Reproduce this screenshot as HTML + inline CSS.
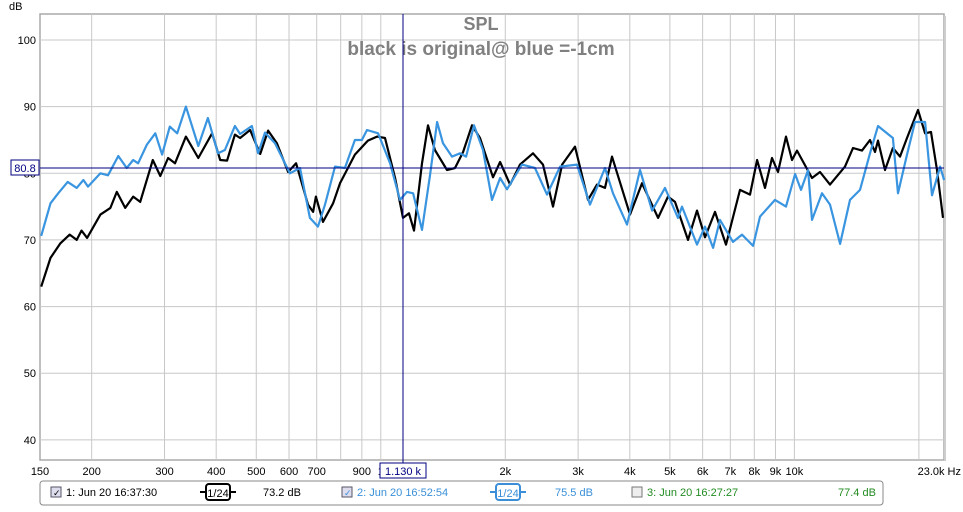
<!DOCTYPE html>
<html><head><meta charset="utf-8"><style>
body{margin:0;background:#fff;font-family:"Liberation Sans",sans-serif}
svg text{font-family:"Liberation Sans",sans-serif}
</style></head><body>
<svg id="chart" width="963" height="507" xmlns="http://www.w3.org/2000/svg">
<rect width="963" height="507" fill="#fff"/>
<rect x="40" y="14" width="904" height="446" fill="#fff" stroke="#aaa" stroke-width="1.5"/>
<line x1="945" y1="16" x2="945" y2="461" stroke="#ccc" stroke-width="2"/>
<g id="grid"></g>
<text x="9" y="10" font-size="11" fill="#000">dB</text>
<g id="yticks"></g>
<g id="xticks"></g>
<text x="481" y="30" text-anchor="middle" font-size="18" font-weight="bold" fill="#808080">SPL</text>
<text x="481" y="55" text-anchor="middle" font-size="19" font-weight="bold" fill="#808080">black is original@ blue =-1cm</text>
<g id="series"></g>
<line id="cx" x1="403" y1="14" x2="403" y2="463" stroke="#000080" stroke-width="1"/>
<line id="cy" x1="40" y1="168" x2="944" y2="168" stroke="#000080" stroke-width="1"/>
<rect x="11" y="160" width="28" height="15" fill="#fff" stroke="#000080"/>
<text x="25" y="172" text-anchor="middle" font-size="11" fill="#000080">80.8</text>
<rect x="380" y="463" width="46" height="15" fill="#fff" stroke="#000080"/>
<text x="403" y="475" text-anchor="middle" font-size="11" fill="#000080">1.130 k</text>
<g>
<rect x="40" y="481" width="843" height="24" rx="3" fill="#fff" stroke="#888"/>
<rect x="51" y="487" width="10" height="10" fill="#dde" stroke="#556"/>
<text x="53" y="496" font-size="9" fill="#000">✓</text>
<text x="66" y="496" font-size="11" fill="#000">1: Jun 20 16:37:30</text>
<line x1="200" y1="492" x2="236" y2="492" stroke="#000" stroke-width="2"/>
<rect x="206" y="484" width="24" height="16" rx="3" fill="#fff" stroke="#000" stroke-width="2"/>
<text x="218" y="497" text-anchor="middle" font-size="11">1/24</text>
<text x="263" y="496" font-size="11" fill="#000">73.2 dB</text>
<rect x="342" y="487" width="10" height="10" fill="#dde" stroke="#556"/>
<text x="344" y="496" font-size="9" fill="#3a8fd8">✓</text>
<text x="357" y="496" font-size="11" fill="#3a8fd8">2: Jun 20 16:52:54</text>
<line x1="490" y1="492" x2="526" y2="492" stroke="#3a8fd8" stroke-width="2"/>
<rect x="496" y="484" width="24" height="16" rx="3" fill="#fff" stroke="#3a8fd8" stroke-width="2"/>
<text x="508" y="497" text-anchor="middle" font-size="11" fill="#3a8fd8">1/24</text>
<text x="555" y="496" font-size="11" fill="#3a8fd8">75.5 dB</text>
<rect x="632" y="487" width="10" height="10" fill="#eee" stroke="#777"/>
<text x="647" y="496" font-size="11" fill="#228b22">3: Jun 20 16:27:27</text>
<text x="838" y="496" font-size="11" fill="#228b22">77.4 dB</text>
</g>
</svg>
<script>
const blackFreq=[151,159,168,177,184,189,195,210,222,230,241,252,262,281,293,306,318,338,362,391,409,425,444,457,483,511,534,561,597,624,667,686,697,725,767,797,866,931,979,1024,1083,1132,1170,1203,1258,1301,1352,1446,1512,1581,1662,1737,1868,1943,2054,2171,2334,2467,2609,2744,2949,3170,3333,3485,3623,4005,4282,4682,4949,5145,5531,5815,6080,6428,6834,7389,7812,8124,8493,8830,9129,9546,9870,10149,11031,11534,12195,13254,13860,14571,15235,15660,15925,16560,17310,18000,18720,19905,20700,21390,22125,22875];
const blackDb=[63,67.3,69.5,70.8,70,71.4,70.3,73.8,74.8,77.2,74.8,76.5,75.7,82,79.6,82.3,81.5,85.5,82.3,86,82,81.9,85.8,85.3,86.5,82.9,86.4,84.5,80.2,81.5,75.3,74.2,76.5,72.7,75.5,78.5,82.8,84.9,85.5,85.3,79.3,73.3,74,71.4,81.5,87.2,83.5,80.5,80.8,83.2,87.2,85.3,79.4,81.7,78.3,81.3,83,81.3,75,81.3,84,76,78.3,77.8,82.5,73.8,78.5,73.3,76.5,75.7,70,74.4,70.4,74.2,69.3,77.5,76.8,82,77.8,82.3,80.2,85.5,82,83.4,79.3,80.2,78.3,81,83.8,83.4,85,83.2,84.9,80.5,83.8,82.5,85.3,89.5,86,86.2,80.5,73.3];
const blueFreq=[151,159,166,175,184,191,196,210,219,232,243,252,259,272,285,296,309,322,338,362,382,404,420,444,457,488,505,525,555,603,638,674,705,733,775,819,866,900,926,985,1053,1113,1157,1197,1258,1315,1368,1414,1487,1554,1608,1680,1767,1857,1943,2019,2195,2360,2523,2713,2982,3206,3485,3643,3939,4235,4529,4866,5232,5349,5815,6080,6359,6611,7106,7472,7945,8260,8976,9546,10038,10377,10791,11031,11661,12195,12896,13632,14410,15235,15925,17310,17805,18720,19575,20700,21510,22500,23010];
const blueDb=[70.6,75.5,77,78.7,77.8,79,78,80,79.7,82.6,80.8,82,81.5,84.3,86,82.8,87,86,90,84.1,88.3,83,83.5,87.1,85.9,87.1,83,86.1,84.5,80,80.8,73.3,72,75.3,81,80.8,85,85,86.5,86,81.5,76,77.2,77,71.5,79.7,87.7,84.5,82.5,83,82.5,87.2,83.5,76,79.3,77.6,81.3,80.8,76.8,81,81.3,75.3,80.8,77,72.3,80.5,74.4,77.8,73.3,75,69.3,72,68.8,73,69.7,70.8,69.1,73.5,76,75,79.9,77.5,80.5,73,77,75.3,69.4,76,77.5,83,87.1,85.3,77,82.8,87.7,87.7,76.7,81,79];
const xTickVals=[150,200,300,400,500,600,700,900,1000,2000,3000,4000,5000,6000,7000,8000,9000,10000];
const xTickLabels=["150","200","300","400","500","600","700","900","1","2k","3k","4k","5k","6k","7k","8k","9k","10k"];
const xGridVals=[200,300,400,500,600,700,800,900,1000,2000,3000,4000,5000,6000,7000,8000,9000,10000,20000];
const yTickVals=[40,50,60,70,80,90,100];
const yGridVals=[40,50,60,70,80,90,100];

const X0=40,X1=944,Y0=14,Y1=460,FMIN=150,FMAX=23000,DBMIN=36.98,DBMAX=103.9;
const NS="http://www.w3.org/2000/svg";
function xs(f){return X0+(X1-X0)*Math.log10(f/FMIN)/Math.log10(FMAX/FMIN);}
function ys(v){return Y1-(Y1-Y0)*(v-DBMIN)/(DBMAX-DBMIN);}
function mk(t,a,p){const e=document.createElementNS(NS,t);for(const k in a)e.setAttribute(k,a[k]);p.appendChild(e);return e;}
const grid=document.getElementById('grid');
xGridVals.forEach(f=>{const l=mk('line',{x1:xs(f),x2:xs(f),y1:Y0,y2:Y1,stroke:'#c8c8c8','stroke-width':1},grid);

});
yGridVals.forEach(v=>{const l=mk('line',{x1:X0,x2:X1,y1:ys(v),y2:ys(v),stroke:'#c8c8c8','stroke-width':1},grid);

});
const yt=document.getElementById('yticks');
yTickVals.forEach(v=>{const t=mk('text',{x:36,y:ys(v)+4,'text-anchor':'end','font-size':11,fill:'#000'},yt);t.textContent=v;

});
const xt=document.getElementById('xticks');
xTickVals.forEach((f,i)=>{const t=mk('text',{x:xs(f),y:475,'text-anchor':'middle','font-size':11,fill:'#000'},xt);t.textContent=xTickLabels[i];

});
const hz=mk('text',{x:961,y:475,'text-anchor':'end','font-size':11,fill:'#000'},xt);hz.textContent="23.0k Hz";


const sg=document.getElementById('series');
function line(fr,db,col,name){
 let d='';fr.forEach((f,i)=>{d+=(i?'L':'M')+xs(f).toFixed(1)+','+ys(db[i]).toFixed(1);});
 const p=mk('path',{d:d,fill:'none',stroke:col,'stroke-width':2.2,'stroke-linejoin':'round'},sg);
 
 
}
line(blackFreq,blackDb,'#000','series-original-black');
line(blueFreq,blueDb,'#3a95e0','series-minus-1cm-blue');
</script>
</body></html>
